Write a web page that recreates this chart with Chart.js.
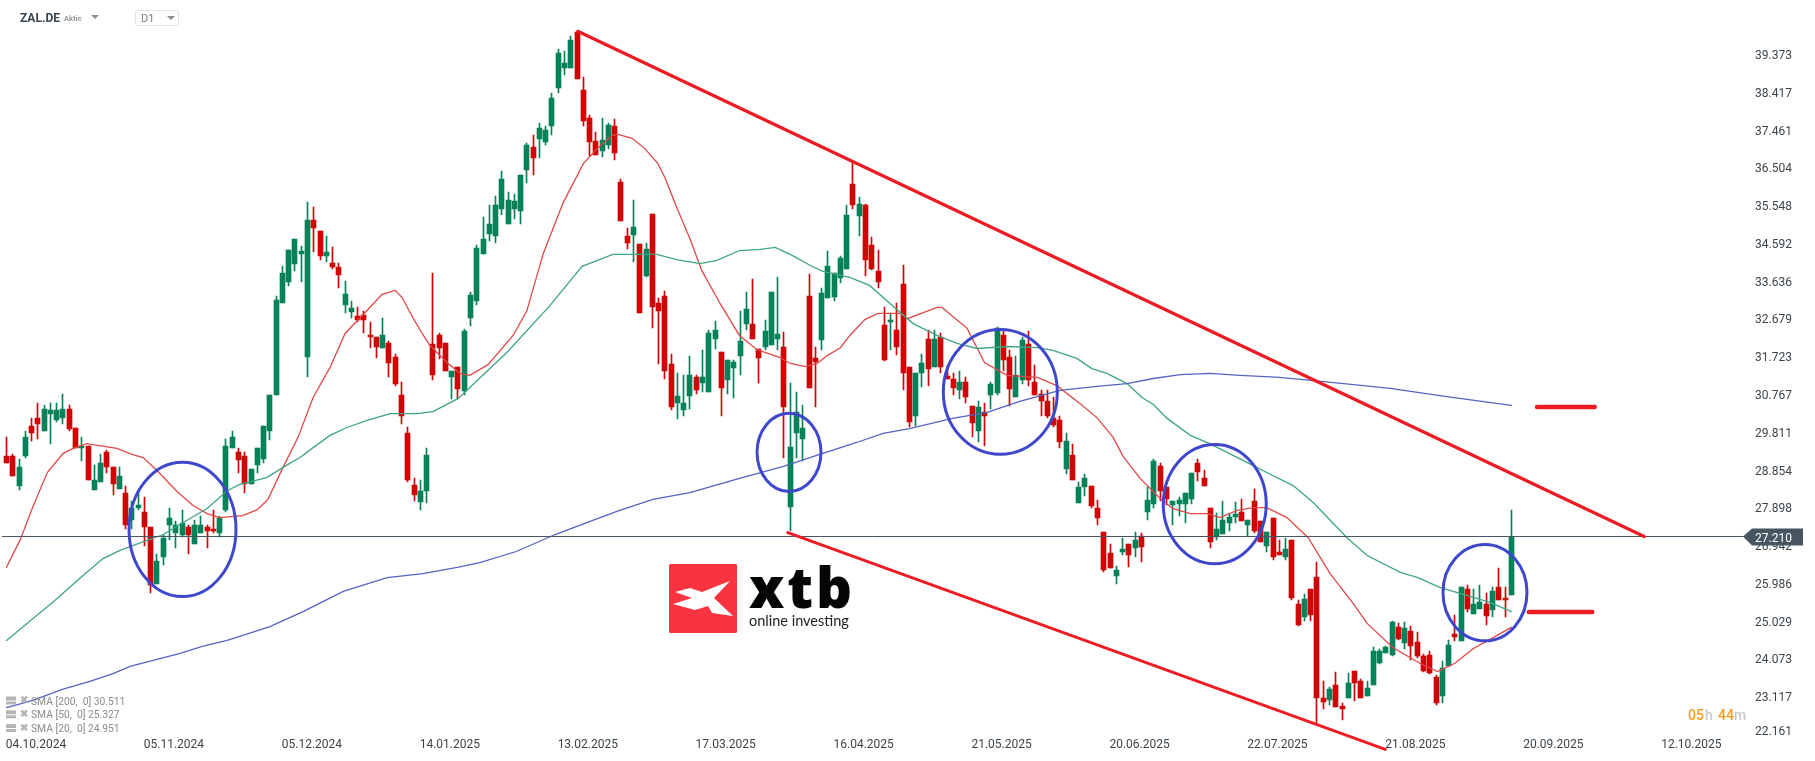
<!DOCTYPE html>
<html>
<head>
<meta charset="utf-8">
<title>ZAL.DE</title>
<script src="https://cdn.jsdelivr.net/npm/chart.js@4"></script>
<style>
html, body { margin: 0; padding: 0; background: #fff; }
canvas { display: block; }
</style>
</head>
<body>
<canvas id="chart" width="1815" height="761"></canvas>
<script>
var opens = [
29.26,29.26,28.48,29.24,30.00,30.22,29.87,30.32,30.17,30.22,
30.43,29.95,29.44,29.49,28.38,28.58,29.36,28.98,28.40,28.32,
27.62,27.94,27.82,27.44,26.02,26.68,27.49,27.31,27.26,27.46,
27.03,27.31,27.46,27.41,27.31,27.87,29.46,29.34,29.26,28.53,
29.03,29.16,29.87,30.78,33.13,33.66,34.12,34.35,31.76,35.23,
34.95,34.30,34.14,34.04,33.08,32.90,32.78,32.83,32.32,32.25,
31.99,32.12,31.76,30.80,29.82,28.52,28.09,28.35,32.09,32.32,
32.12,31.26,31.51,30.90,32.75,33.16,34.37,34.88,34.83,35.49,
35.11,35.51,35.46,36.50,37.08,37.28,37.21,37.59,38.57,39.06,
39.08,39.97,38.52,37.81,37.23,36.98,37.13,37.61,36.19,34.83,
34.85,34.62,33.81,35.38,33.11,33.29,31.57,30.58,30.40,30.76,
31.26,31.09,30.88,32.20,31.87,31.16,31.47,31.79,32.58,32.58,
31.95,32.00,32.05,32.20,32.02,27.95,29.82,29.67,33.31,31.72,
32.19,33.26,33.28,33.76,33.99,36.14,35.33,35.61,34.60,33.92,
32.57,32.63,32.45,33.61,31.49,30.25,31.36,32.22,31.49,32.25,
31.28,31.21,30.93,31.13,30.52,29.89,30.35,30.78,30.85,32.30,
31.76,30.75,31.16,32.09,31.13,30.83,30.63,30.22,30.15,28.93,
29.28,28.07,28.47,28.50,27.92,27.33,26.80,26.22,26.83,27.03,
26.93,27.23,27.84,28.04,29.00,28.47,28.02,28.04,28.04,28.17,
29.06,28.70,27.92,27.21,27.28,27.56,27.71,27.84,27.51,28.12,
27.59,26.98,27.69,26.83,26.68,27.13,25.51,25.16,25.87,26.19,
23.13,23.08,23.46,22.93,23.11,23.81,23.56,23.16,23.46,24.02,
24.27,24.22,24.93,24.52,24.83,24.55,24.19,24.22,23.66,23.18,
23.92,24.75,24.57,25.89,25.26,25.38,25.51,25.36,25.94,25.66,25.74
];
var closes = [
29.06,28.73,28.98,29.72,29.84,30.05,30.45,30.40,30.40,30.45,
29.92,29.44,29.51,28.65,28.65,29.08,28.96,28.55,28.75,27.49,
27.94,28.02,27.46,25.97,26.60,27.16,27.69,27.49,27.54,27.26,
27.51,27.51,27.34,27.34,27.69,29.49,29.72,29.14,28.53,28.93,
29.44,30.00,30.78,33.21,33.87,34.47,34.73,34.45,35.23,35.01,
34.32,34.40,34.04,33.82,33.36,33.00,32.70,32.70,32.25,32.02,
32.32,31.61,31.08,30.27,28.65,28.25,28.37,29.28,31.31,31.99,
31.41,31.41,30.95,32.40,33.33,34.52,34.75,35.11,35.59,36.25,
35.74,35.71,36.35,37.13,36.78,37.56,37.49,38.30,39.44,39.21,
39.79,38.80,37.74,37.21,36.88,37.26,37.64,36.93,35.21,34.65,
35.05,32.88,34.50,33.03,32.91,31.39,30.48,30.76,30.58,31.31,
30.91,31.26,32.35,32.43,30.98,31.69,31.62,32.15,32.96,32.20,
31.72,32.40,33.39,32.33,30.50,29.47,30.35,29.95,30.98,31.64,
33.38,34.07,33.89,34.25,35.36,35.61,35.64,34.22,33.99,33.66,
31.69,32.70,32.02,31.36,30.12,31.36,31.61,31.46,32.22,31.49,
31.21,30.98,31.13,30.73,30.09,30.50,30.25,31.08,32.50,31.69,
30.95,31.31,32.19,31.16,30.80,30.65,30.25,30.04,29.61,29.64,
28.65,28.47,28.70,27.97,27.69,26.37,26.42,26.37,26.90,26.75,
27.11,26.95,28.14,29.13,28.35,28.17,28.12,28.14,28.32,28.83,
28.85,28.50,27.08,27.41,27.64,27.71,27.79,27.61,27.64,27.36,
27.08,27.33,26.70,26.73,26.90,25.66,24.98,25.64,25.23,23.11,
23.03,23.36,22.90,22.85,23.49,23.49,23.13,23.38,24.32,24.32,
24.42,25.05,24.62,24.90,24.45,24.19,23.81,23.76,23.00,23.89,
24.47,24.67,25.92,25.38,25.49,25.56,25.21,25.84,25.61,25.59,27.21
];
var highs = [
29.74,29.31,29.16,29.89,30.20,30.60,30.53,30.60,30.58,30.81,
30.55,29.95,29.72,29.49,29.03,29.29,29.41,28.98,28.96,28.50,
28.12,28.40,28.22,27.46,26.76,27.26,27.92,27.59,27.87,27.51,
27.64,27.72,27.51,27.89,27.74,29.69,29.87,29.44,29.36,28.93,
29.44,30.00,30.78,33.31,34.07,34.47,34.75,34.57,35.69,35.54,
34.95,34.83,34.55,34.14,33.69,33.18,33.03,32.93,32.65,32.25,
32.75,32.17,31.82,31.11,29.97,28.70,28.65,29.44,33.89,32.35,
32.12,31.41,31.51,32.47,33.41,34.60,35.31,35.59,35.84,36.47,
35.92,35.87,36.37,37.16,37.38,37.69,37.61,38.45,39.56,39.49,
39.87,39.97,38.85,37.89,37.46,37.81,37.69,37.79,36.27,35.03,
35.74,34.62,34.65,35.38,33.26,33.42,31.82,31.34,31.31,31.77,
31.31,31.92,32.45,32.66,31.87,31.69,31.69,32.91,33.39,33.72,
31.95,32.68,33.39,33.77,32.38,31.09,30.88,30.53,33.85,32.02,
33.51,34.45,33.89,34.30,35.59,36.68,35.81,35.64,34.78,34.47,
33.03,32.88,33.11,34.09,31.49,31.36,31.84,32.45,32.45,32.35,
31.56,31.36,31.41,31.26,30.52,30.65,30.60,31.13,32.52,32.40,
31.92,31.79,32.25,32.40,31.54,30.93,30.93,30.73,30.25,29.82,
29.54,28.60,28.78,28.50,28.14,27.33,27.03,26.47,27.16,27.03,
27.33,27.31,28.47,29.18,29.08,28.47,28.12,28.22,28.32,28.83,
29.16,28.90,27.92,27.81,28.12,27.81,28.09,28.17,27.64,28.40,
27.59,27.33,27.69,27.11,27.18,27.13,25.59,25.76,25.87,26.57,
23.56,23.41,23.79,23.00,23.76,23.81,23.61,23.56,24.42,24.37,
24.45,25.08,25.03,25.05,24.95,24.78,24.24,24.32,23.71,24.07,
24.60,25.23,25.92,25.97,25.87,25.97,25.79,25.94,26.40,25.92,27.87
];
var lows = [
29.06,28.73,28.38,29.19,29.64,29.67,29.87,29.54,30.10,30.07,
29.89,29.44,29.11,28.65,28.38,28.58,28.83,28.25,28.40,27.39,
27.39,27.89,26.96,25.77,26.02,26.48,27.11,26.93,27.21,26.76,
27.03,27.31,26.91,27.29,27.21,27.82,29.46,28.83,28.32,28.53,
28.83,29.06,29.66,30.78,33.13,33.56,33.94,33.66,31.26,34.40,
34.20,34.17,33.99,33.51,32.88,32.73,32.65,32.37,31.99,31.74,
31.99,31.26,31.01,30.07,28.60,28.12,27.89,28.07,31.16,31.71,
31.39,30.70,30.68,30.80,32.55,33.08,34.37,34.68,34.65,35.36,
35.11,35.26,35.11,36.17,36.35,36.80,37.13,37.38,38.45,38.90,
39.08,38.80,37.61,36.85,36.88,36.83,37.03,36.73,35.21,34.50,
34.17,32.88,33.79,32.50,31.57,31.21,30.40,30.18,30.25,30.43,
30.81,30.86,30.88,31.95,30.25,30.81,30.71,31.31,32.43,32.20,
31.09,31.92,32.05,31.92,29.21,27.34,29.19,29.11,30.98,30.50,
31.92,33.26,33.16,33.64,33.99,35.51,34.83,33.81,33.96,33.49,
31.66,31.92,31.81,30.93,29.99,30.02,31.00,31.03,31.49,31.36,
31.21,30.78,30.70,30.58,29.74,29.61,29.49,30.45,30.80,31.39,
30.52,30.75,31.06,31.03,30.80,30.27,30.20,29.99,29.44,28.80,
28.65,28.07,28.24,27.92,27.49,26.32,26.42,26.02,26.73,26.45,
26.68,26.57,27.64,27.92,28.12,28.02,27.51,27.74,27.56,28.04,
28.62,28.50,26.93,27.11,27.28,27.36,27.54,27.59,27.23,27.31,
27.08,26.83,26.62,26.73,26.62,25.61,24.95,25.06,25.06,22.50,
22.85,22.95,22.90,22.57,23.11,23.05,23.11,23.16,23.46,23.99,
24.27,24.19,24.60,24.35,24.09,24.14,23.79,23.74,22.95,23.00,
23.92,24.57,24.57,25.31,25.26,25.38,24.98,25.16,25.61,25.18,25.74
];

// moving averages: [candle number, price]
var sma20 = [
[0,26.43],[2.2,27.13],[4.1,27.92],[6.5,28.83],[9,29.31],[10.6,29.44],[12.8,29.56],[17.6,29.44],[20,29.29],[21.8,29.21],
[24,28.88],[27.2,28.35],[29.7,28.00],[32,27.79],[34,27.69],[37.7,27.74],[40,27.89],[41.7,28.15],[44.1,28.96],[46.5,29.72],
[48.9,30.73],[51.6,31.49],[54,32.35],[57.5,32.93],[59.9,33.34],[62,33.44],[63.1,33.26],[64.8,32.75],[66.3,32.35],[67.5,32.05],
[70.3,31.61],[72.3,31.34],[73.9,31.29],[76.8,31.56],[80.8,32.30],[83,32.93],[85.6,34.37],[88.8,35.67],[92,36.65],[94.2,37.03],
[96.6,37.36],[97.5,37.39],[99.8,37.29],[101.8,37.03],[103.9,36.65],[105,36.30],[106.9,35.54],[109,34.75],[110.9,33.94],[113.8,33.11],
[116.9,32.30],[119.7,31.94],[123.4,31.74],[125,31.59],[127.4,31.51],[129.3,31.59],[130.9,31.79],[133,31.99],[134.5,32.30],[136.9,32.70],
[139,32.86],[142.5,32.86],[143.8,32.73],[148.4,33.01],[149.2,33.01],[153.2,32.48],[156,31.61],[159.6,31.29],[164.4,31.24],[167.5,31.03],
[171.2,30.58],[173.9,30.22],[176.5,29.72],[178,29.26],[180.8,28.68],[184,28.17],[186,27.92],[188.8,27.79],[191.5,27.79],[193.5,27.69],
[196.3,27.87],[198.8,27.94],[201,27.94],[204.2,27.69],[207.6,27.18],[211.1,26.27],[214.8,25.51],[217,25.01],[221.1,24.40],[225.4,24.00],
[228.2,23.79],[231,24.00],[233.9,24.37],[237.1,24.65],[240,24.91]
];
var sma50 = [
[0,24.58],[7.7,25.59],[12.2,26.22],[15.4,26.65],[18.1,26.86],[22.4,27.11],[25,27.26],[28.8,27.62],[32,27.92],[35.2,28.37],
[37.2,28.53],[41.5,28.70],[44.1,28.96],[46.8,29.21],[48.9,29.46],[51.6,29.77],[54.3,29.97],[57.5,30.15],[61.2,30.32],[65.5,30.32],
[68,30.37],[72,30.70],[79.8,31.87],[86.7,33.06],[91.8,34.05],[96.7,34.35],[103.7,34.35],[106.9,34.22],[110.6,34.12],[113.3,34.20],
[116.9,34.45],[120.2,34.48],[122.6,34.53],[125.4,34.32],[128.2,34.07],[130.2,33.92],[134.5,33.77],[137.7,33.56],[140.9,33.11],[144.6,32.60],
[148.4,32.30],[151.6,32.10],[154.8,31.97],[159.6,32.02],[164.4,31.99],[166.9,31.92],[170.7,31.72],[173.1,31.46],[175.5,31.34],[178.7,31.08],
[181.1,30.73],[182.9,30.55],[185.1,30.20],[188.8,29.77],[191.9,29.56],[197.9,29.08],[201,28.83],[205.2,28.50],[208.4,28.07],[213.8,27.18],
[217,26.73],[222.3,26.30],[225.1,26.17],[228.6,25.92],[231.8,25.77],[236.6,25.54],[240,25.31]
];
var sma200 = [
[0,22.88],[4.2,23.06],[8.9,23.34],[13.3,23.54],[17,23.74],[19.7,23.92],[24,24.10],[27.7,24.25],[31.2,24.43],[35.2,24.58],
[42,24.93],[47.3,25.31],[53.7,25.82],[60.7,26.17],[66.4,26.27],[71.9,26.43],[75.5,26.55],[81.3,26.83],[87.5,27.26],[93.5,27.62],
[97.8,27.87],[103.1,28.15],[109,28.32],[116.9,28.68],[123.8,28.98],[129.7,29.29],[135.6,29.59],[139.8,29.82],[144,29.94],[150.9,30.20],
[156.4,30.35],[161.6,30.63],[168,30.91],[173.9,31.01],[178.7,31.08],[182.9,31.21],[187.2,31.31],[192,31.34],[196.7,31.29],[203.1,31.24],
[211.3,31.11],[220.7,30.96],[229.7,30.75],[240,30.53]
];

var priceTicks = [39.373,38.417,37.461,36.504,35.548,34.592,33.636,32.679,31.723,30.767,29.811,28.854,27.898,26.942,25.986,25.029,24.073,23.117,22.161];
var dateLabels = ['04.10.2024','05.11.2024','05.12.2024','14.01.2025','13.02.2025','17.03.2025','16.04.2025','21.05.2025','20.06.2025','22.07.2025','21.08.2025','20.09.2025','12.10.2025'];
var candlesPerLabel = 22;
var lastPrice = 27.21;

// drawings on the chart, in candle number / price
var trendUpper = [[91.1,40.0],[261.2,27.21]];
var trendLower = [[124.6,27.31],[219.9,21.82]];
var level1 = [[244.1,30.49],[253.3,30.49]];
var level2 = [[242.8,25.30],[252.9,25.30]];
var circles = [
    [28.07,27.39,8.53,1.70],
    [124.8,29.34,5.10,0.99],
    [158.5,30.87,9.09,1.58],
    [192.7,28.03,8.21,1.51],
    [235.8,25.79,6.70,1.22]
];
var legendRows = ['SMA [200,  0] 30.511','SMA [50,  0] 25.327','SMA [20,  0] 24.951'];

var UP = '#05825a';
var DOWN = '#d00404';
var FONT = 'Roboto, sans-serif';

function toPoints(list) {
    return list.map(function (p) { return { x: p[0], y: p[1] }; });
}
function lineSet(list, color, width, order) {
    return {
        type: 'line',
        data: toPoints(list),
        borderColor: color,
        borderWidth: width,
        pointRadius: 0,
        tension: 0,
        clip: false,
        borderCapStyle: 'round',
        order: order
    };
}
function noPadding(scale) {
    scale.paddingLeft = 0;
    scale.paddingRight = 0;
    scale.paddingTop = 0;
    scale.paddingBottom = 0;
}

var candleColors = closes.map(function (c, i) { return c >= opens[i] ? UP : DOWN; });

// snap the candles to whole pixels, the platform draws them crisp
var crispBars = {
    id: 'crispBars',
    afterDatasetsUpdate: function (chart) {
        chart.getSortedVisibleDatasetMetas().forEach(function (meta) {
            if (meta.type !== 'bar') return;
            meta.data.forEach(function (el) {
                el.x = Math.floor(el.x) + 0.5;
                el.y = Math.round(el.y);
                el.base = Math.round(el.base);
                if (el.y === el.base) el.base = el.y + 1;
            });
        });
    }
};

var overlay = {
    id: 'overlay',
    afterDatasetsDraw: function (chart) {
        var ctx = chart.ctx, xs = chart.scales.x, ys = chart.scales.y;
        // circles
        ctx.save();
        ctx.strokeStyle = '#3f48cc';
        ctx.lineWidth = 3;
        circles.forEach(function (c) {
            var cx = xs.getPixelForValue(c[0]), cy = ys.getPixelForValue(c[1]);
            var rx = xs.getPixelForValue(c[0] + c[2]) - cx, ry = cy - ys.getPixelForValue(c[1] + c[3]);
            ctx.beginPath();
            ctx.ellipse(cx, cy, rx, ry, 0, 0, Math.PI * 2);
            ctx.stroke();
        });
        ctx.restore();
    },
    afterDraw: function (chart) {
        var ctx = chart.ctx, ys = chart.scales.y;
        ctx.save();
        ctx.textBaseline = 'middle';

        // header
        ctx.fillStyle = '#37474f';
        ctx.font = 'bold 12px ' + FONT;
        ctx.fillText('ZAL.DE', 20, 19);
        ctx.fillStyle = '#9a9a9a';
        ctx.font = 'bold 7.5px ' + FONT;
        ctx.fillText('Aktie', 64, 19);
        triangle(ctx, 91, 15, 8, 4, '#8f8f8f');
        ctx.strokeStyle = '#e4e4e4';
        ctx.lineWidth = 1;
        ctx.beginPath();
        ctx.roundRect(135.5, 10.5, 43, 15, 2);
        ctx.stroke();
        ctx.fillStyle = '#7a8287';
        ctx.font = '11px ' + FONT;
        ctx.fillText('D1', 141, 19.5);
        triangle(ctx, 167, 16, 8, 4, '#8f8f8f');

        // the lowest tick sits a little higher, the platform keeps it inside the pane
        ctx.fillStyle = '#3b444b';
        ctx.font = '12px ' + FONT;
        ctx.fillText(priceTicks[priceTicks.length - 1].toFixed(3), 1755, 732);

        // last price tag
        var py = ys.getPixelForValue(lastPrice);
        ctx.fillStyle = '#475660';
        ctx.beginPath();
        ctx.moveTo(1743, py);
        ctx.lineTo(1752, py - 8);
        ctx.lineTo(1803, py - 8);
        ctx.lineTo(1803, py + 9);
        ctx.lineTo(1752, py + 9);
        ctx.closePath();
        ctx.fill();
        ctx.fillStyle = '#ffffff';
        ctx.font = '12px ' + FONT;
        ctx.fillText(lastPrice.toFixed(3), 1755, py + 2);

        // legend of the indicators
        legendRows.forEach(function (t, i) {
            var y = 701.5 + i * 13.8;
            ctx.fillStyle = '#b5b5b5';
            ctx.fillRect(6, y - 5, 10, 4);
            ctx.fillRect(6, y, 10, 3);
            ctx.font = 'bold 10px ' + FONT;
            ctx.fillText('\u2716', 20, y - 1);
            ctx.fillStyle = '#8c8c8c';
            ctx.font = '10.3px ' + FONT;
            ctx.fillText(t, 31, y + 0.5);
        });

        // countdown
        ctx.font = '500 14px ' + FONT;
        ctx.fillStyle = '#ff9a1f';
        ctx.fillText('05', 1688, 716);
        ctx.fillText('44', 1718, 716);
        ctx.fillStyle = '#c9c9c9';
        ctx.fillText('h', 1705, 716);
        ctx.fillText('m', 1734, 716);

        // logo
        ctx.fillStyle = '#f93440';
        ctx.beginPath();
        ctx.roundRect(669, 564, 68, 69, 1.5);
        ctx.fill();
        ctx.fillStyle = '#ffffff';
        ctx.beginPath();
        [[675,592],[690,588],[702,592],[730,581],[714,598],[733,616],[712,613],[708,606],[695,610],[673,604],[692,598]].forEach(function (p, i) {
            if (i === 0) ctx.moveTo(p[0], p[1]); else ctx.lineTo(p[0], p[1]);
        });
        ctx.closePath();
        ctx.fill();
        ctx.fillStyle = '#050505';
        ctx.textBaseline = 'alphabetic';
        ctx.font = '800 56px "Open Sans", ' + FONT;
        ctx.letterSpacing = '3px';
        ctx.fillText('xtb', 749, 608);
        ctx.letterSpacing = '0px';
        ctx.fillStyle = '#222222';
        ctx.font = '400 14.5px Lato, ' + FONT;
        ctx.fillText('online investing', 749, 626);
        ctx.restore();
    }
};

function triangle(ctx, x, y, w, h, color) {
    ctx.fillStyle = color;
    ctx.beginPath();
    ctx.moveTo(x, y);
    ctx.lineTo(x + w, y);
    ctx.lineTo(x + w / 2, y + h);
    ctx.closePath();
    ctx.fill();
}

var X_MIN = -0.718, X_MAX = 276.95;

var chart = new Chart(document.getElementById('chart').getContext('2d'), {
    data: {
        datasets: [
            {
                type: 'bar',
                data: highs.map(function (h, i) { return { x: i, y: [lows[i], h] }; }),
                backgroundColor: candleColors,
                barThickness: 1,
                grouped: false,
                order: 6
            },
            {
                type: 'bar',
                data: opens.map(function (o, i) { return { x: i, y: [o, closes[i]] }; }),
                backgroundColor: candleColors,
                barThickness: 5,
                grouped: false,
                order: 5
            },
            lineSet(sma200, '#5563c4', 1.3, 4),
            lineSet(sma50, '#3fa585', 1.3, 4),
            lineSet(sma20, '#e0484a', 1.3, 4),
            lineSet([[X_MIN, lastPrice], [X_MAX, lastPrice]], '#475660', 1, 3),
            lineSet(trendUpper, '#ed1c24', 3.2, 2),
            lineSet(trendLower, '#ed1c24', 3, 2),
            lineSet(level1, '#ed1c24', 4.5, 2),
            lineSet(level2, '#ed1c24', 4.5, 2)
        ]
    },
    plugins: [crispBars, overlay],
    options: {
        responsive: false,
        animation: false,
        devicePixelRatio: 1,
        layout: { padding: { top: 2.54, left: 2, right: 0, bottom: 0 } },
        plugins: { legend: { display: false }, tooltip: { enabled: false } },
        scales: {
            x: {
                type: 'linear',
                offset: false,
                min: X_MIN,
                max: X_MAX,
                grid: { display: false, drawTicks: false },
                border: { display: false },
                afterBuildTicks: function (scale) {
                    scale.ticks = dateLabels.map(function (d, i) { return { value: i * candlesPerLabel }; });
                },
                afterFit: function (scale) { scale.height = 25.06; noPadding(scale); },
                ticks: {
                    autoSkip: false,
                    maxRotation: 0,
                    padding: 2,
                    labelOffset: 29.5,
                    color: '#3b444b',
                    font: { family: FONT, size: 12 },
                    callback: function (v) { return dateLabels[Math.round(v / candlesPerLabel)]; }
                }
            },
            y: {
                type: 'linear',
                position: 'right',
                min: 22.161,
                max: 40.728,
                grid: { display: false, drawTicks: false },
                border: { display: false },
                afterBuildTicks: function (scale) {
                    scale.ticks = priceTicks.slice(0, -1).map(function (v) { return { value: v }; });
                },
                afterFit: function (scale) { scale.width = 72; noPadding(scale); },
                ticks: {
                    autoSkip: false,
                    padding: 12,
                    color: '#3b444b',
                    font: { family: FONT, size: 12 },
                    callback: function (v) { return v.toFixed(3); }
                }
            }
        }
    }
});
</script>
</body>
</html>
